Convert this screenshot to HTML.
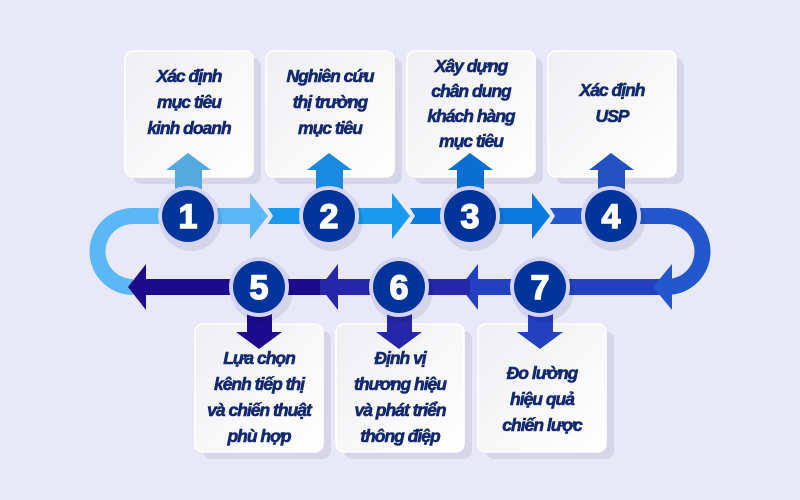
<!DOCTYPE html>
<html><head><meta charset="utf-8"><style>
html,body{margin:0;padding:0;background:#e8e8f8;}
svg{display:block}
text{font-family:"Liberation Sans","DejaVu Sans",sans-serif;font-weight:bold;font-style:italic;}
.t{font-size:17.5px;fill:#13296f;stroke:#13296f;stroke-width:0.6px;text-anchor:middle;letter-spacing:-1px}
.n{font-size:34px;fill:#fff;stroke:#fff;stroke-width:1.5px;text-anchor:middle;font-style:normal;}
</style></head><body>
<svg width="800" height="500" viewBox="0 0 800 500" xmlns="http://www.w3.org/2000/svg">
<defs>
<linearGradient id="bg" x1="0" y1="0" x2="1" y2="1"><stop offset="0" stop-color="#efeff2"/><stop offset="1" stop-color="#ffffff"/></linearGradient>
</defs>
<rect width="800" height="500" fill="#e8e8f8"/>
<g fill="#d6d6e8">
<rect x="133" y="58" width="128" height="126" rx="8"/>
<rect x="274" y="58" width="128" height="126" rx="8"/>
<rect x="415" y="58" width="128" height="126" rx="8"/>
<rect x="556" y="58" width="128" height="126" rx="8"/>
<rect x="203" y="331" width="128" height="128" rx="8"/>
<rect x="344" y="331" width="128" height="128" rx="8"/>
<rect x="486" y="331" width="128" height="128" rx="8"/>
</g>
<g fill="url(#bg)" stroke="#ffffff" stroke-width="1.5">
<rect x="125" y="51" width="128" height="126" rx="8"/>
<rect x="266" y="51" width="128" height="126" rx="8"/>
<rect x="407" y="51" width="128" height="126" rx="8"/>
<rect x="548" y="51" width="128" height="126" rx="8"/>
<rect x="195" y="324" width="128" height="128" rx="8"/>
<rect x="336" y="324" width="128" height="128" rx="8"/>
<rect x="478" y="324" width="128" height="128" rx="8"/>
</g>
<path d="M133 208 A43.5 43.5 0 0 0 133 295 L133 279 A27.5 27.5 0 0 1 133 224 Z" fill="#5bb8f5"/>
<path d="M667 208 A43.5 43.5 0 0 1 667 295 L667 279 A27.5 27.5 0 0 0 667 224 Z" fill="#2358cc"/>
<rect x="130" y="208" width="120" height="16" fill="#5bb8f5"/>
<polygon points="250,193 268,216 250,239" fill="#5bb8f5"/>
<rect x="268" y="208" width="124" height="16" fill="#1a9aec"/>
<polygon points="268,208 273,216 268,224" fill="#e8e8f8"/>
<polygon points="392,193 410,216 392,239" fill="#1a9aec"/>
<rect x="410" y="208" width="122" height="16" fill="#0a7ae0"/>
<polygon points="410,208 415,216 410,224" fill="#e8e8f8"/>
<polygon points="532,193 550,216 532,239" fill="#0a7ae0"/>
<rect x="550" y="208" width="119" height="16" fill="#2358cc"/>
<polygon points="550,208 555,216 550,224" fill="#e8e8f8"/>
<rect x="470" y="279" width="198" height="16" fill="#2340c0"/>
<polygon points="672,264 653,287 672,310" fill="#2358cc"/>
<polygon points="478,264 460,287 478,310" fill="#2340c0"/>
<rect x="320" y="279" width="150" height="16" fill="#2626a8"/>
<polygon points="338,264 320,287 338,310" fill="#2626a8"/>
<rect x="140" y="279" width="180" height="16" fill="#1e0a8c"/>
<polygon points="146,264 128,287 146,310" fill="#1e0a8c"/>
<g>
<rect x="175" y="170" width="27" height="30" fill="#55a8e0"/><polygon points="166,170 188,153 211,170" fill="#55a8e0"/>
<rect x="316" y="170" width="27" height="30" fill="#1a8ae0"/><polygon points="307,170 329,153 352,170" fill="#1a8ae0"/>
<rect x="457" y="170" width="27" height="30" fill="#0a6fd0"/><polygon points="448,170 470,153 493,170" fill="#0a6fd0"/>
<rect x="598" y="170" width="27" height="30" fill="#2352c0"/><polygon points="589,170 611,153 634,170" fill="#2352c0"/>
</g>
<rect x="247" y="300" width="25" height="33" fill="#1e0a8c"/><polygon points="236,332 282,332 259,349" fill="#1e0a8c"/>
<rect x="387" y="300" width="25" height="33" fill="#2626a8"/><polygon points="376,332 422,332 399,349" fill="#2626a8"/>
<rect x="528" y="300" width="25" height="33" fill="#2340c0"/><polygon points="517,332 563,332 540,349" fill="#2340c0"/>
<g>
<g transform="translate(188,216)"><circle r="31" fill="#000" opacity="0.08" cx="3" cy="4"/><circle r="30" fill="#d4d4f8"/><circle r="26" fill="#01349a"/><text class="n" y="12">1</text></g>
<g transform="translate(329,216)"><circle r="31" fill="#000" opacity="0.08" cx="3" cy="4"/><circle r="30" fill="#d4d4f8"/><circle r="26" fill="#01349a"/><text class="n" y="12">2</text></g>
<g transform="translate(470,216)"><circle r="31" fill="#000" opacity="0.08" cx="3" cy="4"/><circle r="30" fill="#d4d4f8"/><circle r="26" fill="#01349a"/><text class="n" y="12">3</text></g>
<g transform="translate(611,216)"><circle r="31" fill="#000" opacity="0.08" cx="3" cy="4"/><circle r="30" fill="#d4d4f8"/><circle r="26" fill="#01349a"/><text class="n" y="12">4</text></g>
<g transform="translate(259,287)"><circle r="31" fill="#000" opacity="0.08" cx="3" cy="4"/><circle r="30" fill="#d4d4f8"/><circle r="26" fill="#01349a"/><text class="n" y="12">5</text></g>
<g transform="translate(399,287)"><circle r="31" fill="#000" opacity="0.08" cx="3" cy="4"/><circle r="30" fill="#d4d4f8"/><circle r="26" fill="#01349a"/><text class="n" y="12">6</text></g>
<g transform="translate(540,287)"><circle r="31" fill="#000" opacity="0.08" cx="3" cy="4"/><circle r="30" fill="#d4d4f8"/><circle r="26" fill="#01349a"/><text class="n" y="12">7</text></g>
</g>
<text class="t" x="189" y="82">Xác định</text>
<text class="t" x="189" y="108">mục tiêu</text>
<text class="t" x="189" y="134">kinh doanh</text>
<text class="t" x="330" y="82">Nghiên cứu</text>
<text class="t" x="330" y="108">thị trường</text>
<text class="t" x="330" y="134">mục tiêu</text>
<text class="t" x="471" y="72">Xây dựng</text>
<text class="t" x="471" y="97">chân dung</text>
<text class="t" x="471" y="122">khách hàng</text>
<text class="t" x="471" y="147">mục tiêu</text>
<text class="t" x="612" y="96">Xác định</text>
<text class="t" x="612" y="122">USP</text>
<text class="t" x="259" y="364">Lựa chọn</text>
<text class="t" x="259" y="390">kênh tiếp thị</text>
<text class="t" x="259" y="416">và chiến thuật</text>
<text class="t" x="259" y="442">phù hợp</text>
<text class="t" x="400" y="364">Định vị</text>
<text class="t" x="400" y="390">thương hiệu</text>
<text class="t" x="400" y="416">và phát triển</text>
<text class="t" x="400" y="442">thông điệp</text>
<text class="t" x="542" y="379">Đo lường</text>
<text class="t" x="542" y="405">hiệu quả</text>
<text class="t" x="542" y="431">chiến lược</text>
</svg>
</body></html>
